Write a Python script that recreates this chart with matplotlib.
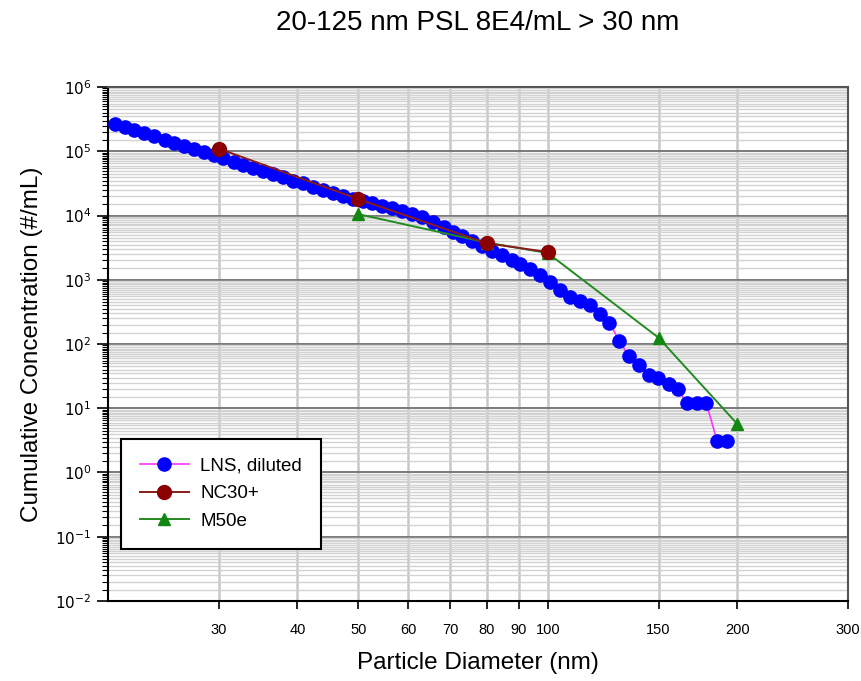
import numpy as np
import matplotlib
matplotlib.use("Agg")
import matplotlib.pyplot as plt
import matplotlib.ticker as ticker

plt.rcParams["font.family"] = ["Liberation Sans", "DejaVu Sans"]

# LNS, diluted (blue dots, magenta line)
lns_x = [20.5, 21.3, 22.0, 22.8, 23.7, 24.6, 25.5, 26.4, 27.4, 28.4, 29.5, 30.5, 31.7, 32.8, 34.0,
         35.3, 36.6, 38.0, 39.4, 40.8, 42.3, 43.9, 45.5, 47.2, 49.0, 50.8, 52.6, 54.6, 56.6, 58.7,
         60.9, 63.2, 65.8, 68.3, 70.8, 73.0, 75.8, 78.6, 81.5, 84.6, 87.7, 90.4, 93.8, 97.3, 100.9,
         104.7, 108.6, 112.6, 116.6, 120.9, 125.3, 129.9, 134.5, 139.5, 144.7, 149.5, 155.6, 160.8,
         166.4, 172.7, 178.6, 185.8, 192.7]
lns_y = [2.68e5, 2.39e5, 2.14e5, 1.91e5, 1.71e5, 1.52e5, 1.36e5, 1.22e5, 1.09e5, 9.7e4, 8.7e4, 7.8e4,
         6.9e4, 6.2e4, 5.5e4, 4.9e4, 4.4e4, 3.95e4, 3.5e4, 3.2e4, 2.8e4, 2.5e4, 2.25e4, 2.0e4, 1.8e4,
         1.70e4, 1.55e4, 1.42e4, 1.29e4, 1.17e4, 1.06e4, 9.5e3, 8.0e3, 6.6e3, 5.6e3, 4.8e3, 4.0e3,
         3.4e3, 2.85e3, 2.4e3, 2.05e3, 1.76e3, 1.47e3, 1.2e3, 910, 690, 530, 470, 405, 290, 215, 111,
         65, 47, 33, 30, 24, 20, 12, 12, 12, 3.1, 3.1]

# NC30+
nc_x = [30, 50, 80, 100]
nc_y = [1.1e5, 1.8e4, 3.7e3, 2.7e3]

# M50e
m50_x = [50, 80, 100, 150, 200]
m50_y = [1.05e4, 3.8e3, 2.6e3, 125, 5.7]

x_ticks = [30, 40, 50, 60, 70, 80, 90, 100, 150, 200, 300]
y_ticks = [1e-2, 1e-1, 1e0, 1e1, 1e2, 1e3, 1e4, 1e5, 1e6]

fig = plt.figure(figsize=(8.62, 6.81), dpi=100)
ax = fig.add_axes([0.1253, 0.1175, 0.8585, 0.7547])
ax.set_xscale("log")
ax.set_yscale("log")
ax.set_xlim(20, 300)
ax.set_ylim(1e-2, 1e6)

# grid
ax.yaxis.set_minor_locator(ticker.LogLocator(base=10, subs=np.arange(1.5, 10, 0.5), numticks=100))
ax.yaxis.set_minor_formatter(ticker.NullFormatter())
ax.grid(True, which="minor", axis="y", color="#d2d2d2", lw=1.0, zorder=0)
ax.grid(True, which="major", axis="y", color="#7a7a7a", lw=1.4, zorder=0)
ax.xaxis.set_major_locator(ticker.FixedLocator(x_ticks))
ax.xaxis.set_major_formatter(ticker.FixedFormatter([str(t) for t in x_ticks]))
ax.xaxis.set_minor_locator(ticker.NullLocator())
ax.grid(True, which="major", axis="x", color="#c8c8c8", lw=1.8, zorder=0)
ax.set_axisbelow(True)

ax.yaxis.set_major_locator(ticker.FixedLocator(y_ticks))
ax.yaxis.set_major_formatter(ticker.FuncFormatter(lambda v, _: r"$10^{%d}$" % round(np.log10(v))))

ax.plot(lns_x, lns_y, color="#ff33ff", lw=1.2, marker="o", markersize=9.5,
        markerfacecolor="#0000ff", markeredgecolor="#0000ff", label="LNS, diluted", zorder=3)
ax.plot(m50_x, m50_y, color="#228b22", lw=1.4, marker="^", markersize=9,
        markerfacecolor="#118811", markeredgecolor="#118811", label="M50e", zorder=4)
ax.plot(nc_x, nc_y, color="#8b1a1a", lw=1.4, marker="o", markersize=10,
        markerfacecolor="#8b0000", markeredgecolor="#8b0000", label="NC30+", zorder=5)

for s in ax.spines.values():
    s.set_color("black")
    s.set_linewidth(1.5)
ax.spines["top"].set_color("#555555")
ax.spines["right"].set_color("#555555")

ax.tick_params(axis="x", which="major", direction="out", length=6, width=1.2, pad=10, labelsize=10.5)
ax.tick_params(axis="y", which="major", direction="out", length=8, width=1.2, pad=4, labelsize=11)
ax.tick_params(axis="y", which="minor", direction="out", length=4, width=0.8)

ax.set_xlabel("Particle Diameter (nm)", fontsize=17.5, labelpad=11)
ax.set_ylabel("Cumulative Concentration (#/mL)", fontsize=17.5, labelpad=9)
fig.text(0.5546, 0.966, "20-125 nm PSL 8E4/mL > 30 nm", fontsize=20, ha="center", va="center")

handles, labels = ax.get_legend_handles_labels()
order = [0, 2, 1]
leg = ax.legend([handles[i] for i in order], [labels[i] for i in order], loc="lower left",
                bbox_to_anchor=(0.018, 0.102), fontsize=13.5, fancybox=False, framealpha=1,
                edgecolor="black", handlelength=2.6, borderpad=1.0, labelspacing=0.55,
                handletextpad=0.6, borderaxespad=0)
leg.get_frame().set_linewidth(1.5)

fig.savefig("out.png", dpi=100)
